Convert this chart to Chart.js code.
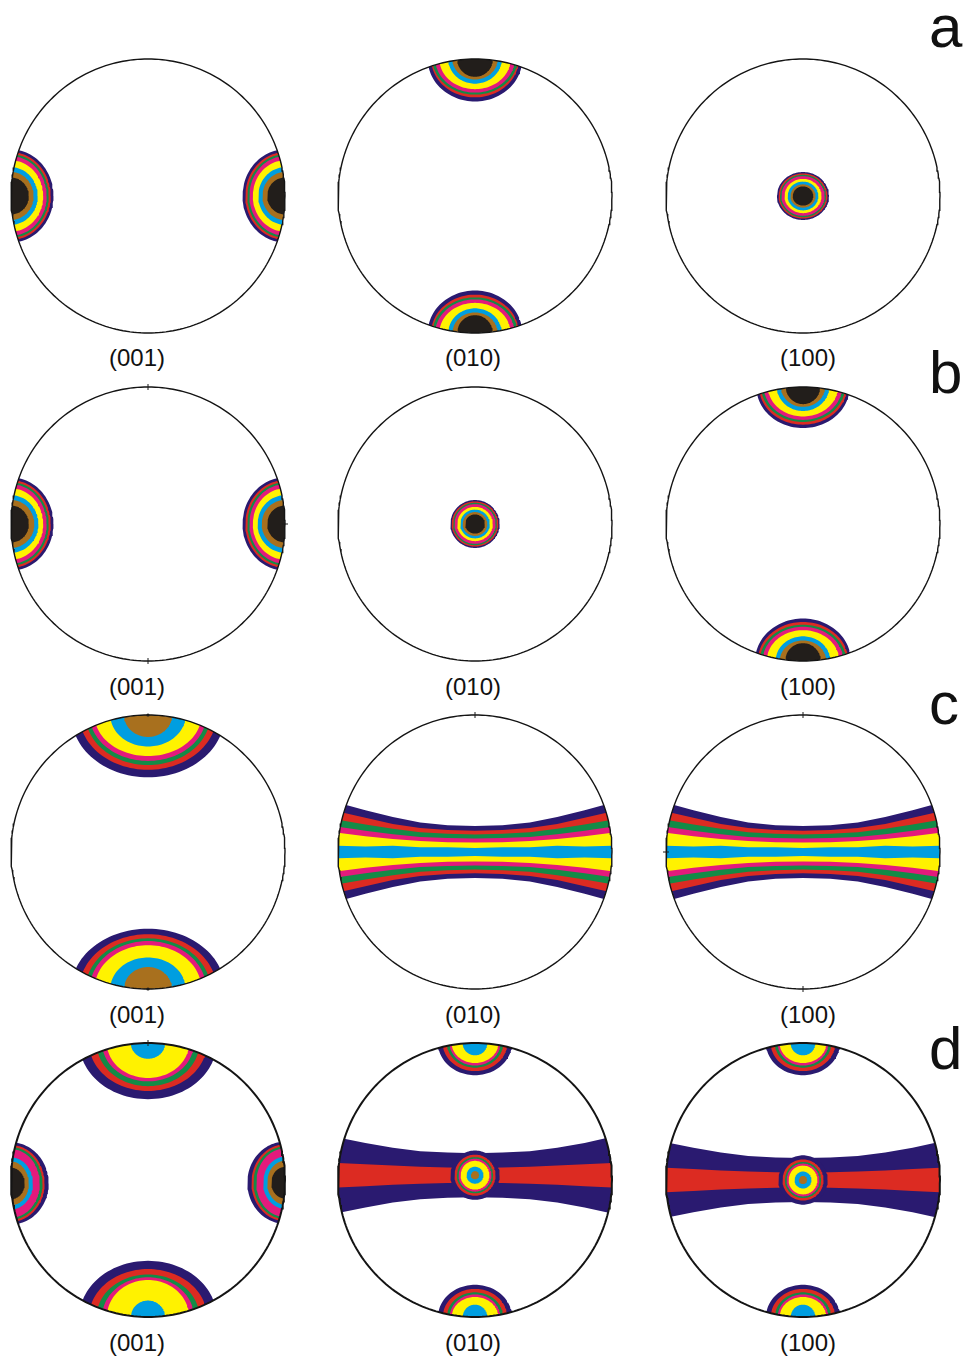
<!DOCTYPE html>
<html>
<head>
<meta charset="utf-8">
<title>Pole figures</title>
<script src="https://cdn.jsdelivr.net/npm/chart.js@4.4.1/dist/chart.umd.min.js"></script>
<style>
  html, body { margin: 0; padding: 0; background: #fff; }
  body { width: 964px; height: 1357px; position: relative; overflow: hidden;
         font-family: "Liberation Sans", Arial, sans-serif; color: #111; }
  .pf { position: absolute; width: 284px; height: 284px; }
  .cap { position: absolute; font-size: 24px; line-height: 24px; transform: translateX(-50%); white-space: nowrap; }
  .row { position: absolute; font-size: 60px; line-height: 60px; }
</style>
</head>
<body>
<script>
// ---- labels ----
const figureNames = ['(001)', '(010)', '(100)'];
const rowLetters = ['a', 'b', 'c', 'd'];

// ---- contour level colours (outermost = lowest density) ----
const levelColors = {
  navy: '#2a1a70', red: '#dc2b22', green: '#138b47', magenta: '#e31a7c',
  yellow: '#fff200', cyan: '#009ee0', brown: '#a8701e', black: '#221e1b'
};
const fullLevels = ['navy', 'red', 'green', 'magenta', 'yellow', 'cyan', 'brown', 'black'];
const wideLevels = ['navy', 'red', 'green', 'magenta', 'yellow', 'cyan', 'brown'];
const openLevels = ['navy', 'red', 'green', 'magenta', 'yellow', 'cyan'];
const sideLevels = ['navy', 'red', 'green', 'magenta', 'cyan', 'brown', 'black'];
const girdleLevels = ['navy', 'red', 'green', 'magenta', 'yellow', 'cyan'];
const weakGirdleLevels = ['navy', 'red'];

// ---- maxima: semi-axes of each contour (unit = primitive radius) ----
// row a
const aSideRx = [0.31, 0.29, 0.275, 0.26, 0.235, 0.195, 0.165, 0.13];
const aSideRy = [0.34, 0.32, 0.305, 0.29, 0.26, 0.21, 0.175, 0.135];
const aPoleRx = [0.345, 0.32, 0.31, 0.29, 0.26, 0.195, 0.165, 0.13];
const aPoleRy = [0.31, 0.28, 0.26, 0.245, 0.22, 0.18, 0.15, 0.13];
const aCentreRx = [0.19, 0.178, 0.168, 0.158, 0.135, 0.112, 0.092, 0.075];
const aCentreRy = [0.175, 0.165, 0.155, 0.145, 0.125, 0.105, 0.085, 0.07];
// row b
const bSideRx = [0.31, 0.29, 0.275, 0.26, 0.235, 0.2, 0.17, 0.13];
const bSideRy = [0.34, 0.32, 0.305, 0.29, 0.26, 0.21, 0.175, 0.135];
const bCentreRx = [0.18, 0.17, 0.16, 0.15, 0.13, 0.108, 0.09, 0.072];
const bCentreRy = [0.175, 0.165, 0.155, 0.145, 0.125, 0.105, 0.087, 0.07];
const bPoleTopRx = [0.34, 0.32, 0.305, 0.285, 0.255, 0.19, 0.16, 0.125];
const bPoleTopRy = [0.3, 0.275, 0.255, 0.24, 0.215, 0.175, 0.145, 0.125];
const bPoleBotRx = [0.35, 0.33, 0.315, 0.295, 0.265, 0.2, 0.17, 0.13];
const bPoleBotRy = [0.31, 0.285, 0.265, 0.25, 0.225, 0.18, 0.15, 0.13];
// row c
const cTopRx = [0.56, 0.5, 0.455, 0.425, 0.39, 0.275, 0.175];
const cTopRy = [0.455, 0.4, 0.365, 0.335, 0.3, 0.23, 0.16];
const cBotRx = [0.56, 0.5, 0.455, 0.425, 0.39, 0.275, 0.175];
const cBotRy = [0.44, 0.4, 0.37, 0.35, 0.32, 0.23, 0.16];
// row d
const dTopRx = [0.5, 0.43, 0.375, 0.335, 0.3, 0.125];
const dTopRy = [0.41, 0.35, 0.315, 0.28, 0.255, 0.115];
const dBotRx = [0.5, 0.43, 0.375, 0.335, 0.3, 0.125];
const dBotRy = [0.41, 0.35, 0.31, 0.29, 0.27, 0.12];
const dSideRx = [0.275, 0.245, 0.23, 0.21, 0.16, 0.13, 0.1];
const dSideRy = [0.3, 0.28, 0.265, 0.25, 0.19, 0.16, 0.115];
const dPoleRx = [0.27, 0.235, 0.205, 0.185, 0.17, 0.09];
const dPoleRy = [0.235, 0.205, 0.18, 0.165, 0.146, 0.09];
const dCentreR = [0.18, 0.15, 0.132, 0.12, 0.105, 0.062, 0.03];

// ---- girdles: half-width of each band at girdleX ----
const girdleX = [-1, -0.8, -0.6, -0.4, -0.2, 0, 0.2, 0.4, 0.6, 0.8, 1];
const cGirdle = {
  navy:    [0.36, 0.305, 0.255, 0.215, 0.195, 0.19, 0.195, 0.215, 0.255, 0.305, 0.36],
  red:     [0.295, 0.25, 0.205, 0.175, 0.16, 0.155, 0.16, 0.175, 0.205, 0.25, 0.295],
  green:   [0.235, 0.2, 0.17, 0.145, 0.133, 0.128, 0.133, 0.145, 0.17, 0.2, 0.235],
  magenta: [0.185, 0.155, 0.13, 0.11, 0.102, 0.098, 0.102, 0.11, 0.13, 0.155, 0.185],
  yellow:  [0.14, 0.115, 0.095, 0.08, 0.072, 0.07, 0.072, 0.08, 0.095, 0.115, 0.14],
  cyan:    [0.045, 0.04, 0.045, 0.035, 0.035, 0.03, 0.035, 0.035, 0.045, 0.04, 0.045]
};
const dGirdle = {
  navy: [0.275, 0.235, 0.2, 0.175, 0.165, 0.16, 0.165, 0.175, 0.2, 0.235, 0.28],
  red:  [0.09, 0.08, 0.07, 0.062, 0.057, 0.055, 0.057, 0.062, 0.07, 0.08, 0.09]
};

// ---- panel layout (pixel centres of the primitives) ----
const colCentres = [148, 475, 803];
const rowCentres = [196, 524, 852, 1180];
const captionX = [137, 473, 808];
const captionY = [358, 687, 1015, 1343];
const letterTop = [-3, 343, 674, 1019];

// ---- panels ----
const panels = [
  { row: 0, col: 0, blobs: [
      { x: -1, y: 0, levels: fullLevels, rx: aSideRx, ry: aSideRy },
      { x: 1, y: 0, levels: fullLevels, rx: aSideRx, ry: aSideRy } ] },
  { row: 0, col: 1, blobs: [
      { x: 0, y: 1, levels: fullLevels, rx: aPoleRx, ry: aPoleRy },
      { x: 0, y: -1, levels: fullLevels, rx: aPoleRx, ry: aPoleRy } ] },
  { row: 0, col: 2, blobs: [
      { x: 0, y: 0, levels: fullLevels, rx: aCentreRx, ry: aCentreRy } ] },

  { row: 1, col: 0, ticks: [{ x: 0, y: 1, a: 90 }, { x: 0, y: -1, a: 90 }, { x: 1, y: 0, a: 0 }], blobs: [
      { x: -1, y: 0, levels: fullLevels, rx: bSideRx, ry: bSideRy },
      { x: 1, y: 0, levels: fullLevels, rx: bSideRx, ry: bSideRy } ] },
  { row: 1, col: 1, blobs: [
      { x: 0, y: 0, levels: fullLevels, rx: bCentreRx, ry: bCentreRy } ] },
  { row: 1, col: 2, blobs: [
      { x: 0, y: 1, levels: fullLevels, rx: bPoleTopRx, ry: bPoleTopRy },
      { x: 0, y: -1, levels: fullLevels, rx: bPoleBotRx, ry: bPoleBotRy } ] },

  { row: 2, col: 0, dots: [{ x: 0, y: 1 }, { x: 0, y: -1 }], blobs: [
      { x: 0, y: 1, levels: wideLevels, rx: cTopRx, ry: cTopRy },
      { x: 0, y: -1, levels: wideLevels, rx: cBotRx, ry: cBotRy } ] },
  { row: 2, col: 1, ticks: [{ x: 0, y: 1, a: 90 }],
    girdle: { levels: girdleLevels, widths: cGirdle, y: 0 }, blobs: [] },
  { row: 2, col: 2, ticks: [{ x: 0, y: 1, a: 90 }, { x: -1, y: 0, a: 0 }, { x: 0, y: -1, a: 90 }],
    girdle: { levels: girdleLevels, widths: cGirdle, y: 0 }, blobs: [] },

  { row: 3, col: 0, ticks: [{ x: 0, y: 1, a: 90 }], blobs: [
      { x: 0, y: 1, levels: openLevels, rx: dTopRx, ry: dTopRy },
      { x: 0, y: -1, levels: openLevels, rx: dBotRx, ry: dBotRy },
      { x: -1, y: -0.025, levels: sideLevels, rx: dSideRx, ry: dSideRy },
      { x: 1, y: -0.02, levels: sideLevels, rx: dSideRx, ry: dSideRy } ] },
  { row: 3, col: 1, girdle: { levels: weakGirdleLevels, widths: dGirdle, y: 0.035 }, blobs: [
      { x: 0, y: 1, levels: openLevels, rx: dPoleRx, ry: dPoleRy },
      { x: 0, y: -1, levels: openLevels, rx: dPoleRx, ry: dPoleRy },
      { x: 0, y: 0.035, levels: wideLevels, rx: dCentreR, ry: dCentreR } ] },
  { row: 3, col: 2, girdle: { levels: weakGirdleLevels, widths: dGirdle, y: 0 }, blobs: [
      { x: 0, y: 1, levels: openLevels, rx: dPoleRx, ry: dPoleRy },
      { x: 0, y: -1, levels: openLevels, rx: dPoleRx, ry: dPoleRy },
      { x: 0, y: 0, levels: wideLevels, rx: dCentreR, ry: dCentreR } ] }
];

// ---- geometry helpers (unit-circle coordinates) ----
function ellipse(cx, cy, rx, ry, n) {
  const pts = [];
  for (let i = 0; i <= n; i++) {
    const t = 2 * Math.PI * i / n;
    pts.push({ x: cx + rx * Math.cos(t), y: cy + ry * Math.sin(t) });
  }
  return pts;
}
function band(yc, half) {
  const pts = [];
  for (let i = 0; i < girdleX.length; i++) pts.push({ x: girdleX[i], y: yc + half[i] });
  for (let i = girdleX.length - 1; i >= 0; i--) pts.push({ x: girdleX[i], y: yc - half[i] });
  pts.push({ x: girdleX[0], y: yc + half[0] });
  return pts;
}
// white ring covering everything outside the primitive (square outline + reversed circle)
function outsideMask() {
  const s = 1.06;
  const pts = [{ x: s, y: 0 }, { x: s, y: s }, { x: -s, y: s }, { x: -s, y: -s }, { x: s, y: -s }, { x: s, y: 0 }, { x: 1, y: 0 }];
  for (let i = 1; i <= 240; i++) {
    const t = -2 * Math.PI * i / 240;
    pts.push({ x: Math.cos(t), y: Math.sin(t) });
  }
  pts.push({ x: s, y: 0 });
  return pts;
}

function areaSet(data, color) {
  return { data, fill: 'shape', backgroundColor: color, borderColor: 'rgba(0,0,0,0)',
           borderWidth: 0, pointRadius: 0, tension: 0 };
}

function buildPanel(p) {
  const layers = [];
  if (p.girdle) {
    p.girdle.levels.forEach(lv => layers.push(areaSet(band(p.girdle.y, p.girdle.widths[lv]), levelColors[lv])));
  }
  p.blobs.forEach(b => {
    b.levels.forEach((lv, k) => layers.push(areaSet(ellipse(b.x, b.y, b.rx[k], b.ry[k], 120), levelColors[lv])));
  });
  layers.push(areaSet(outsideMask(), '#ffffff'));
  layers.push({ data: ellipse(0, 0, 1, 1, 240), fill: false, borderColor: '#141414',
                borderWidth: p.row === 3 ? 2 : 1.4, pointRadius: 0, tension: 0, clip: 6 });
  if (p.ticks) {
    layers.push({ data: p.ticks.map(t => ({ x: t.x, y: t.y })), showLine: false, pointStyle: 'line',
                  pointRadius: 3, pointBorderColor: '#1b1b1b', pointBorderWidth: 1,
                  pointRotation: p.ticks.map(t => t.a), clip: 10 });
  }
  if (p.dots) {
    layers.push({ data: p.dots, showLine: false, pointStyle: 'circle', pointRadius: 1.6,
                  pointBackgroundColor: '#1b1b1b', pointBorderWidth: 0, clip: 10 });
  }
  layers.forEach((d, i) => { d.order = layers.length - i; });

  const wrap = document.createElement('div');
  wrap.className = 'pf';
  wrap.style.left = (colCentres[p.col] - 142) + 'px';
  wrap.style.top = (rowCentres[p.row] - 142) + 'px';
  const cv = document.createElement('canvas');
  cv.width = 284; cv.height = 284;
  cv.style.width = '284px'; cv.style.height = '284px';
  wrap.appendChild(cv);
  document.body.appendChild(wrap);

  new Chart(cv, {
    type: 'line',
    data: { datasets: layers },
    options: {
      responsive: false, animation: false, devicePixelRatio: 1, events: [],
      layout: { padding: 5 },
      scales: {
        x: { type: 'linear', min: -1, max: 1, display: false },
        y: { type: 'linear', min: -1, max: 1, display: false }
      },
      plugins: { legend: { display: false }, tooltip: { enabled: false }, filler: { propagate: false } }
    }
  });
}

panels.forEach(buildPanel);

// captions under each figure and row letters
for (let r = 0; r < rowLetters.length; r++) {
  for (let c = 0; c < figureNames.length; c++) {
    const t = document.createElement('div');
    t.className = 'cap';
    t.textContent = figureNames[c];
    t.style.left = captionX[c] + 'px';
    t.style.top = (captionY[r] - 12) + 'px';
    document.body.appendChild(t);
  }
  const l = document.createElement('div');
  l.className = 'row';
  l.textContent = rowLetters[r];
  l.style.left = '929px';
  l.style.top = letterTop[r] + 'px';
  document.body.appendChild(l);
}
</script>
</body>
</html>
